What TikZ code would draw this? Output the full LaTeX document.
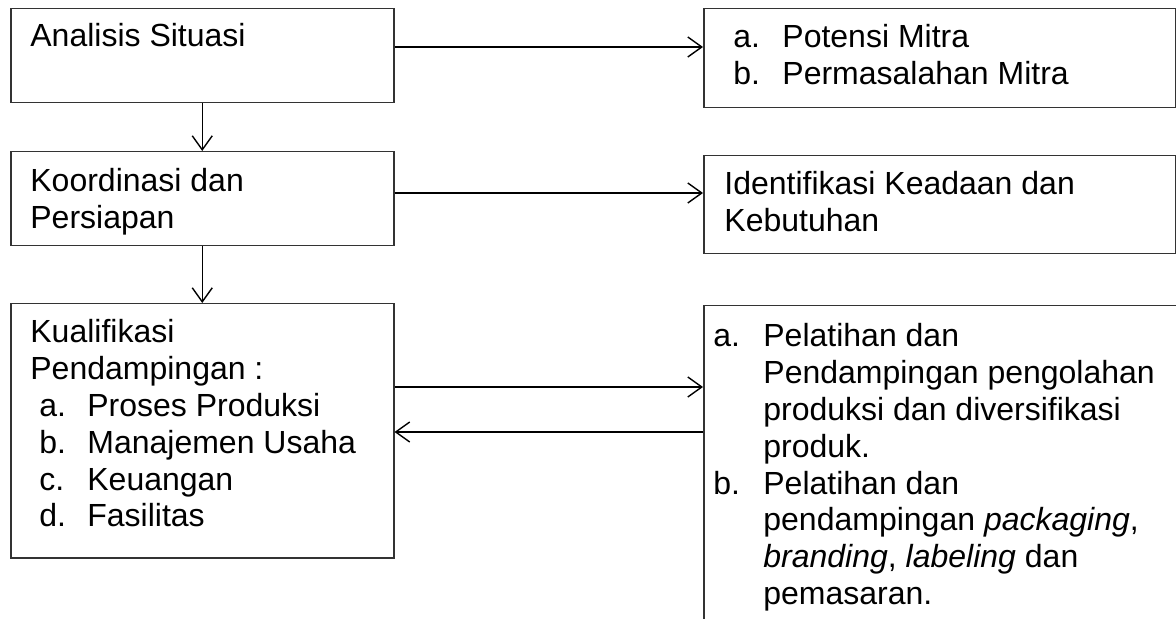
\documentclass[tikz,border=0pt]{standalone}
\usepackage{fontspec}
\setmainfont{Liberation Sans}
\usetikzlibrary{arrows.meta,calc}
\newcommand\lbl[2]{\makebox[#1][l]{#2}}
\begin{document}
\begin{tikzpicture}[x=0.5pt,y=-0.5pt,
 box/.style={draw=black!80, line width=0.75pt, rectangle, inner sep=0pt, anchor=north west},
 txt/.style={inner sep=0pt, anchor=base west, font=\fontsize{16pt}{18.4pt}\selectfont},
 arr/.style={line width=0.7pt, -{Straight Barb[length=7pt,width=10pt]}}]
\useasboundingbox (0,0) rectangle (1176,619);
\clip (0,0) rectangle (1176,619);
% left boxes
\node[box, minimum width=191.5pt, minimum height=47pt] (b1) at (10,8) {};
\node[box, minimum width=191.5pt, minimum height=47pt] (b2) at (10,151) {};
\node[box, minimum width=191.5pt, minimum height=127pt] (b3) at (10,303) {};
% right boxes
\node[box, minimum width=236pt, minimum height=49.5pt] (r1) at (703,8) {};
\node[box, minimum width=236pt, minimum height=49pt] (r2) at (703,155) {};
\node[box, minimum width=240pt, minimum height=200pt] (r3) at (703,305) {};
% texts
\node[txt] (t1) at (30,47) {\parbox[t]{180pt}{Analisis Situasi}};
\node[txt] (t2) at (30,192) {\parbox[t]{180pt}{\raggedright Koordinasi dan\\Persiapan}};
\node[txt] (t3) at (30,343) {\parbox[t]{180pt}{\raggedright Kualifikasi\\Pendampingan :\\
\hspace*{4.5pt}\lbl{24pt}{a.}Proses Produksi\\
\hspace*{4.5pt}\lbl{24pt}{b.}Manajemen Usaha\\
\hspace*{4.5pt}\lbl{24pt}{c.}Keuangan\\
\hspace*{4.5pt}\lbl{24pt}{d.}Fasilitas}};
\node[txt] (tr1) at (733,48) {\parbox[t]{220pt}{\raggedright \lbl{24.5pt}{a.}Potensi Mitra\\\lbl{24.5pt}{b.}Permasalahan Mitra}};
\node[txt] (tr2) at (724,195) {\parbox[t]{220pt}{\raggedright Identifikasi Keadaan dan\\Kebutuhan}};
\node[txt] (tr3) at (713,347) {\parbox[t]{230pt}{\raggedright
\lbl{25pt}{a.}Pelatihan dan\\
\hspace*{25pt}Pendampingan pengolahan\\
\hspace*{25pt}produksi dan diversifikasi\\
\hspace*{25pt}produk.\\
\lbl{25pt}{b.}Pelatihan dan\\
\hspace*{25pt}pendampingan \textit{packaging},\\
\hspace*{25pt}\textit{branding}, \textit{labeling} dan\\
\hspace*{25pt}pemasaran.}};
% connectors
\coordinate (p1) at ($(b1.north east)+(0,39)$);
\coordinate (p2) at ($(b2.north east)+(0,42)$);
\coordinate (p3) at ($(b3.north east)+(0,84)$);
\coordinate (p4) at ($(b3.north east)+(0,129)$);
\draw[arr] (p1) -- (p1 -| r1.west);
\draw[arr] (p2) -- (p2 -| r2.west);
\draw[arr] (p3) -- (p3 -| r3.west);
\draw[arr] (p4 -| r3.west) -- (p4);
\draw[arr] (b1.south) -- (b2.north);
\draw[arr] (b2.south) -- (b3.north);
\end{tikzpicture}
\end{document}
